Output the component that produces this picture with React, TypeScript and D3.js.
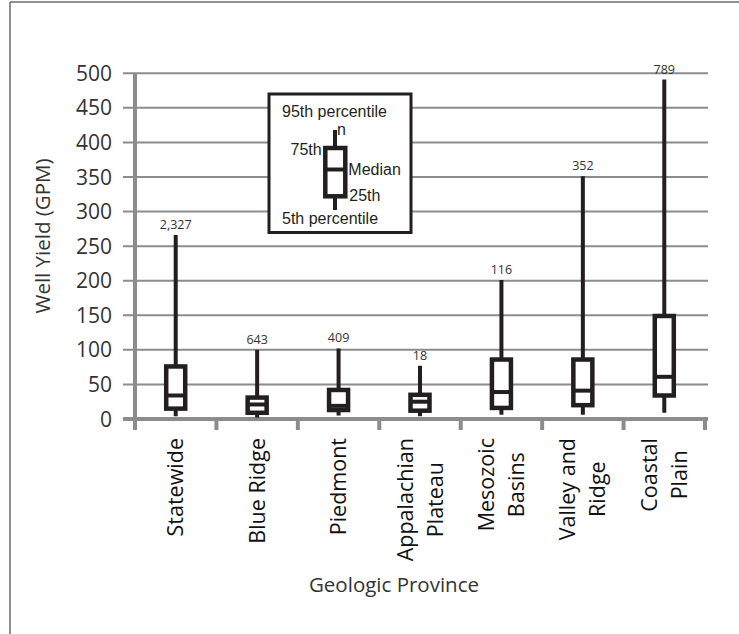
import React, { useEffect, useRef } from 'react';
import * as d3 from 'd3';

// Chart data
const categories = ['Statewide', 'Blue Ridge', 'Piedmont', 'Appalachian\nPlateau', 'Mesozoic\nBasins', 'Valley and\nRidge', 'Coastal\nPlain'];
const p5 = [4, 2, 5, 4, 6, 6, 9];
const p25 = [15, 9, 13, 12, 16, 20, 34];
const medians = [34, 21, 19, 25, 39, 41, 61];
const p75 = [76, 31, 42, 35, 86, 86, 149];
const p95 = [266, 100, 102, 77, 201, 351, 491];
const counts = ['2,327', '643', '409', '18', '116', '352', '789'];
const yTicks = [0, 50, 100, 150, 200, 250, 300, 350, 400, 450, 500];

const WellYieldChart: React.FC = () => {
    const chartRef = useRef<SVGSVGElement>(null);

    useEffect(() => {
        if (!chartRef.current) return;
        const svg = d3.select(chartRef.current);
        svg.selectAll('*').remove();

        const width = 739;
        const height = 634;
        const ink = '#231f20';
        const grid = '#8c8c8c';
        const myriad = '"Open Sans", sans-serif';
        const arial = '"Liberation Sans", Arial, sans-serif';

        svg.attr('width', width).attr('height', height);

        const data = categories.map((c, i) => ({
            category: c,
            lo: p5[i], q1: p25[i], med: medians[i], q3: p75[i], hi: p95[i], n: counts[i]
        }));

        const x = d3.scaleBand().domain(categories).range([135, 705]).padding(0);
        const y = d3.scaleLinear().domain([0, 500]).range([419, 73.3]);

        // outer frame (only top and left edges are visible)
        svg.append('line').attr('x1', 10).attr('x2', width).attr('y1', 2).attr('y2', 2)
            .attr('stroke', '#6d6d6d').attr('stroke-width', 1.5);
        svg.append('line').attr('x1', 10).attr('x2', 10).attr('y1', 2).attr('y2', height)
            .attr('stroke', '#6d6d6d').attr('stroke-width', 1.5);

        // gridlines
        svg.append('g').selectAll('line')
            .data(yTicks.filter(t => t > 0))
            .enter().append('line')
            .attr('x1', 123).attr('x2', 708)
            .attr('y1', d => y(d)).attr('y2', d => y(d))
            .attr('stroke', grid).attr('stroke-width', 2);

        // axes
        svg.append('line').attr('x1', 123).attr('x2', 708).attr('y1', y(0)).attr('y2', y(0))
            .attr('stroke', grid).attr('stroke-width', 4);
        svg.append('line').attr('x1', 135).attr('x2', 135).attr('y1', y(500)).attr('y2', 430)
            .attr('stroke', grid).attr('stroke-width', 4);
        const bounds = categories.map(c => x(c) as number).concat([x.range()[1]]);
        svg.append('g').selectAll('line')
            .data(bounds)
            .enter().append('line')
            .attr('x1', d => d).attr('x2', d => d)
            .attr('y1', y(0)).attr('y2', 430)
            .attr('stroke', grid).attr('stroke-width', 4);

        // y tick labels
        svg.append('g').selectAll('text')
            .data(yTicks)
            .enter().append('text')
            .attr('x', 112)
            .attr('y', d => y(d))
            .attr('dy', '0.36em')
            .attr('text-anchor', 'end')
            .attr('font-family', myriad)
            .attr('font-size', 21)
            .attr('fill', '#333')
            .text(d => d);

        // axis titles
        svg.append('text')
            .attr('transform', 'translate(50, 236) rotate(-90)')
            .attr('text-anchor', 'middle')
            .attr('font-family', myriad)
            .attr('font-size', 20.5)
            .attr('fill', '#333')
            .text('Well Yield (GPM)');
        svg.append('text')
            .attr('x', 394)
            .attr('y', 591.5)
            .attr('text-anchor', 'middle')
            .attr('font-family', myriad)
            .attr('font-size', 20.5)
            .attr('fill', '#333')
            .text('Geologic Province');

        // category labels (rotated, lines centred on each other, top near y=437)
        data.forEach(d => {
            const lines = d.category.split('\n');
            const cx = (x(d.category) as number) + x.bandwidth() / 2;
            const g = svg.append('g');
            const texts = lines.map((line, j) => {
                const bx = cx + 7.5 - (lines.length - 1) * 15 + j * 30;
                return g.append('text')
                    .attr('font-family', myriad)
                    .attr('font-size', 21.5)
                    .attr('fill', '#111')
                    .attr('text-anchor', 'middle')
                    .attr('data-bx', bx)
                    .text(line);
            });
            const maxLen = d3.max(texts, t => (t.node() as SVGTextElement).getComputedTextLength()) || 0;
            const cy = 438 + maxLen / 2;
            texts.forEach(t => {
                const bx = +t.attr('data-bx');
                t.attr('transform', `translate(${bx}, ${cy}) rotate(-90)`);
            });
        });

        // legend
        const lg = svg.append('g');
        lg.append('rect')
            .attr('x', 269).attr('y', 94).attr('width', 142).attr('height', 138.5)
            .attr('fill', 'white').attr('stroke', ink).attr('stroke-width', 3);
        lg.append('line').attr('x1', 335).attr('x2', 335).attr('y1', 130).attr('y2', 210)
            .attr('stroke', ink).attr('stroke-width', 4);
        lg.append('rect').attr('x', 325.3).attr('y', 148).attr('width', 20).attr('height', 48.3)
            .attr('fill', 'white').attr('stroke', ink).attr('stroke-width', 4.5);
        lg.append('line').attr('x1', 325.3).attr('x2', 345.3).attr('y1', 169.5).attr('y2', 169.5)
            .attr('stroke', ink).attr('stroke-width', 4);
        const legendTexts = [
            { t: '95th percentile', x: 282, y: 116.5, a: 'start' },
            { t: 'n', x: 337, y: 135, a: 'start' },
            { t: '75th', x: 321.7, y: 155, a: 'end' },
            { t: 'Median', x: 348.3, y: 175, a: 'start' },
            { t: '25th', x: 349.3, y: 200.7, a: 'start' },
            { t: '5th percentile', x: 282, y: 224, a: 'start' }
        ];
        lg.selectAll('text.leg')
            .data(legendTexts)
            .enter().append('text')
            .attr('class', 'leg')
            .attr('x', d => d.x).attr('y', d => d.y)
            .attr('text-anchor', d => d.a)
            .attr('font-family', arial)
            .attr('font-size', 16)
            .attr('fill', ink)
            .text(d => d.t);

        // boxes
        const boxW = 19;
        const bg = svg.append('g');
        const cxOf = (d: { category: string }) => (x(d.category) as number) + x.bandwidth() / 2;

        bg.selectAll('line.whisker')
            .data(data)
            .enter().append('line')
            .attr('class', 'whisker')
            .attr('x1', cxOf).attr('x2', cxOf)
            .attr('y1', d => y(d.lo)).attr('y2', d => y(d.hi))
            .attr('stroke', ink).attr('stroke-width', 4);

        bg.selectAll('rect.box')
            .data(data)
            .enter().append('rect')
            .attr('class', 'box')
            .attr('x', d => cxOf(d) - boxW / 2)
            .attr('y', d => y(d.q3))
            .attr('width', boxW)
            .attr('height', d => y(d.q1) - y(d.q3))
            .attr('fill', 'white')
            .attr('stroke', ink)
            .attr('stroke-width', 4.5);

        bg.selectAll('line.median')
            .data(data)
            .enter().append('line')
            .attr('class', 'median')
            .attr('x1', d => cxOf(d) - boxW / 2).attr('x2', d => cxOf(d) + boxW / 2)
            .attr('y1', d => y(d.med)).attr('y2', d => y(d.med))
            .attr('stroke', ink).attr('stroke-width', 4);

        // n labels
        bg.selectAll('text.n')
            .data(data)
            .enter().append('text')
            .attr('class', 'n')
            .attr('x', cxOf)
            .attr('y', d => y(d.hi) - 6)
            .attr('text-anchor', 'middle')
            .attr('font-family', myriad)
            .attr('font-size', 12.5)
            .attr('fill', '#333')
            .text(d => d.n);
    }, []);

    return (
        <div style={{ position: 'absolute', left: 0, top: 0, background: 'white' }}>
            <svg ref={chartRef} style={{ display: 'block' }}></svg>
        </div>
    );
};

export default function App() {
    return <WellYieldChart />;
}
